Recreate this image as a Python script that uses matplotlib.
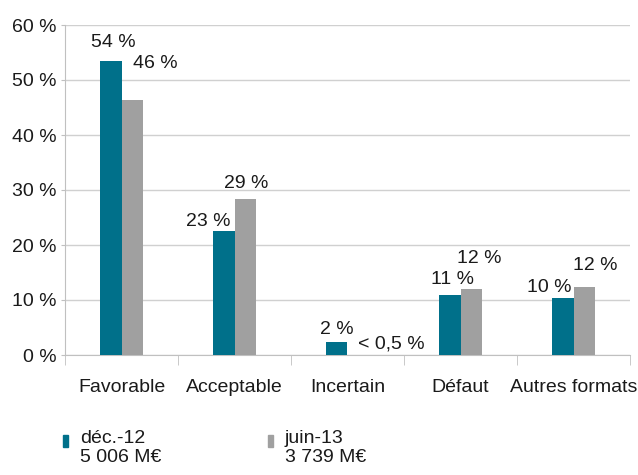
import numpy as np
import matplotlib
matplotlib.use("Agg")
import matplotlib.pyplot as plt
from matplotlib.patches import Rectangle

plt.rcParams['font.family'] = ['Liberation Sans', 'DejaVu Sans']

# data
categories = ["Favorable", "Acceptable", "Incertain", "Défaut", "Autres formats"]
dec12 = [53.5, 22.5, 2.3, 10.9, 10.4]
juin13 = [46.3, 28.4, 0.0, 12.0, 12.4]
dec12_labels = ["54 %", "23 %", "2 %", "11 %", "10 %"]
juin13_labels = ["46 %", "29 %", "< 0,5 %", "12 %", "12 %"]
yticks = [0, 10, 20, 30, 40, 50, 60]
legend_names = ["déc.-12\n5 006 M€", "juin-13\n3 739 M€"]

TEAL = "#00708a"
GREY = "#a0a0a0"
TXT = "#1a1a1a"
FS = 14

fig = plt.figure(figsize=(6.38, 4.75), dpi=100)
ax = fig.add_axes([65/638, 1-355/475, 565/638, 330/475])

x = np.arange(len(categories))
w = 0.186
b1 = ax.bar(x - w/2, dec12, w, color=TEAL, zorder=3)
b2 = ax.bar(x + w/2, juin13, w, color=GREY, zorder=3)

# label offsets in points (dx, dy) from top centre of each bar to text baseline
off1 = [(2, 10), (-11.5, 3.6), (0, 6), (2, 8), (-10, 4.3)]
off2 = [(17, 23), (1, 7.7), (24, 5), (6, 19), (8, 12)]
for bars, labs, offs in [(b1, dec12_labels, off1), (b2, juin13_labels, off2)]:
    for rect, lab, o in zip(bars, labs, offs):
        ax.annotate(lab, (rect.get_x() + rect.get_width()/2, rect.get_height()),
                    xytext=o, textcoords="offset points", ha="center",
                    va="baseline", fontsize=FS, color=TXT)

ax.set_xlim(-0.5, len(categories) - 0.5)
ax.set_ylim(0, 60)
ax.set_yticks(yticks)
ax.set_yticklabels([f"{v} %" for v in yticks], fontsize=FS, color=TXT)
ax.yaxis.grid(True, color="#d0d0d0", linewidth=1, zorder=0)
ax.tick_params(axis="y", length=3, color="#c0c0c0", pad=3)

ax.set_xticks(x)
ax.set_xticklabels(categories, fontsize=FS, color=TXT)
ax.set_xticks(np.arange(len(categories) + 1) - 0.5, minor=True)
ax.tick_params(axis="x", which="major", length=0, pad=17)
ax.tick_params(axis="x", which="minor", length=7, color="#c0c0c0")

for s in ["top", "right"]:
    ax.spines[s].set_visible(False)
for s in ["left", "bottom"]:
    ax.spines[s].set_color("#c0c0c0")

# legend drawn by hand
for i, (name, col) in enumerate(zip(legend_names, [TEAL, GREY])):
    x0 = 63 + i * 205
    fig.patches.append(Rectangle((x0/638, 1-447/475), 5/638, 12/475,
                                 transform=fig.transFigure, color=col))
    fig.text((x0 + 17)/638, 1-430/475, name, fontsize=FS, color=TXT,
             va="top", ha="left", linespacing=1.15)

fig.savefig("out.png", dpi=100)
